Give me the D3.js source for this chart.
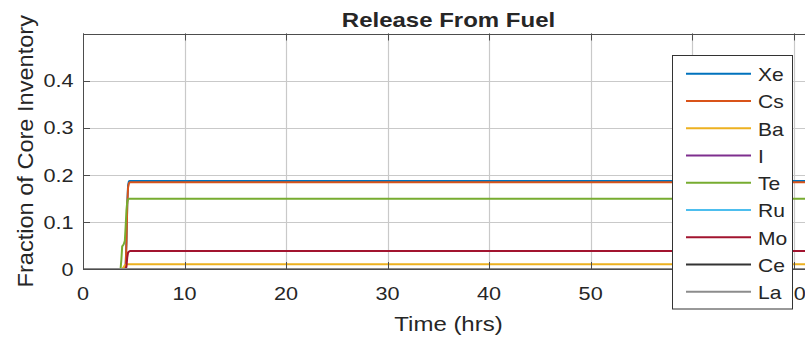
<!DOCTYPE html>
<html>
<head>
<meta charset="utf-8">
<script src="https://cdn.jsdelivr.net/npm/d3@7/dist/d3.min.js"></script>
<style>
  html, body { margin: 0; padding: 0; background: #fff; }
  svg { display: block; }
  text { font-family: "Liberation Sans", Arial, Helvetica, sans-serif; fill: #262626; }
</style>
</head>
<body>
<svg id="chart" width="805" height="341"></svg>
<script>
// Fission product release from fuel, fraction of core inventory vs time
const seriesNames = ["Xe", "Cs", "Ba", "I", "Te", "Ru", "Mo", "Ce", "La"];
const seriesColors = ["#0072BD", "#D95319", "#EDB120", "#7E2F8E", "#77AC30", "#4DBEEE", "#A2142F", "#333333", "#8c8c8c"];

const timeHrs = [0, 3.70, 3.78, 3.86, 4.00, 4.12, 4.20, 4.28, 4.36, 4.44, 4.52, 4.62, 72];
const xe = [0, 0, 0, 0, 0, 0, 0.005, 0.060, 0.140, 0.178, 0.186, 0.187, 0.187];
const cs = [0, 0, 0, 0, 0, 0, 0.004, 0.055, 0.135, 0.173, 0.182, 0.184, 0.184];
const ba = [0, 0, 0, 0, 0.004, 0.008, 0.009, 0.010, 0.010, 0.010, 0.010, 0.010, 0.010];
const iod = [0, 0, 0, 0, 0, 0, 0, 0, 0, 0, 0, 0, 0];
const te = [0, 0, 0.020, 0.048, 0.052, 0.060, 0.090, 0.125, 0.143, 0.148, 0.149, 0.149, 0.149];
const ru = [0, 0, 0, 0, 0, 0, 0, 0, 0, 0, 0, 0, 0];
const mo = [0, 0, 0, 0, 0, 0, 0, 0.005, 0.025, 0.035, 0.037, 0.038, 0.038];
const ce = [0, 0, 0, 0, 0, 0, 0, 0, 0, 0, 0, 0, 0];
const la = [0, 0, 0, 0, 0, 0, 0, 0, 0, 0, 0, 0, 0];
const seriesValues = [xe, cs, ba, iod, te, ru, mo, ce, la];

const xTicks = [0, 10, 20, 30, 40, 50, 60, 70];
const yTicks = [0, 0.1, 0.2, 0.3, 0.4];
const xDomain = [0, 72];
const yDomain = [0, 0.5];

const titleText = "Release From Fuel";
const xLabelText = "Time (hrs)";
const yLabelText = "Fraction of Core Inventory";

// layout
const plotLeft = 83, plotRight = 814, plotTop = 33.5, plotBottom = 269;
const stretch = 1.17;       // horizontal glyph widening of the text face
const axisColor = "#4d4d4d";
const gridColor = "#c9c9c9";
const tickLen = 7;

const svg = d3.select("#chart");
const x = d3.scaleLinear().domain(xDomain).range([plotLeft, plotRight]);
const y = d3.scaleLinear().domain(yDomain).range([plotBottom, plotTop]);

function label(parent, px, py, str, opts) {
  const g = parent.append("g").attr("transform", `translate(${px},${py}) rotate(${opts.rotate || 0})`);
  g.append("text")
    .attr("transform", `scale(${opts.sx || stretch},${opts.sy || 1})`)
    .attr("text-anchor", opts.anchor || "middle")
    .attr("font-size", opts.size)
    .attr("font-weight", opts.weight || "normal")
    .text(str);
  return g;
}

svg.append("defs").append("clipPath").attr("id", "plotClip")
  .append("rect")
  .attr("x", plotLeft).attr("y", plotTop)
  .attr("width", plotRight - plotLeft).attr("height", plotBottom - plotTop);

// grid
const grid = svg.append("g");
grid.selectAll("line.vx").data(xTicks.filter(d => d > 0)).join("line")
  .attr("x1", d => Math.round(x(d)) + 0.5).attr("x2", d => Math.round(x(d)) + 0.5)
  .attr("y1", plotTop).attr("y2", plotBottom)
  .attr("stroke", gridColor).attr("stroke-width", 1.2);
grid.selectAll("line.hy").data(yTicks.filter(d => d > 0)).join("line")
  .attr("y1", d => Math.round(y(d)) + 0.5).attr("y2", d => Math.round(y(d)) + 0.5)
  .attr("x1", plotLeft).attr("x2", plotRight)
  .attr("stroke", gridColor).attr("stroke-width", 1.2);

// data lines
const line = d3.line().x(d => x(d[0])).y(d => y(d[1]));
const plot = svg.append("g").attr("clip-path", "url(#plotClip)");
seriesNames.forEach((name, i) => {
  const pts = timeHrs.map((t, k) => [t, seriesValues[i][k]]);
  plot.append("path")
    .datum(pts)
    .attr("d", line)
    .attr("fill", "none")
    .attr("stroke", seriesColors[i])
    .attr("stroke-width", 2)
    .attr("stroke-linejoin", "round");
});

// axes box and inward ticks
const ax = svg.append("g").attr("stroke", axisColor).attr("stroke-width", 1);
ax.append("line").attr("x1", plotLeft).attr("x2", plotRight).attr("y1", Math.round(plotTop) + 0.5).attr("y2", Math.round(plotTop) + 0.5);
ax.append("line").attr("x1", plotLeft).attr("x2", plotRight).attr("y1", plotBottom + 0.5).attr("y2", plotBottom + 0.5);
ax.append("line").attr("x1", plotLeft + 0.5).attr("x2", plotLeft + 0.5).attr("y1", plotTop).attr("y2", plotBottom + 1);
ax.append("line").attr("x1", plotRight + 0.5).attr("x2", plotRight + 0.5).attr("y1", plotTop).attr("y2", plotBottom + 1);
xTicks.forEach(d => {
  const px = Math.round(x(d)) + 0.5;
  ax.append("line").attr("x1", px).attr("x2", px).attr("y1", plotBottom).attr("y2", plotBottom - tickLen);
  ax.append("line").attr("x1", px).attr("x2", px).attr("y1", plotTop).attr("y2", plotTop + tickLen);
});
yTicks.forEach(d => {
  const py = Math.round(y(d)) + 0.5;
  ax.append("line").attr("x1", plotLeft).attr("x2", plotLeft + tickLen).attr("y1", py).attr("y2", py);
  ax.append("line").attr("x1", plotRight).attr("x2", plotRight - tickLen).attr("y1", py).attr("y2", py);
});

// tick labels
const fmtY = d => d === 0 ? "0" : d3.format(".1f")(d);
xTicks.forEach(d => label(svg, x(d), plotBottom + 31, String(d), { size: 18.5 }));
yTicks.forEach(d => label(svg, plotLeft - 9.5, y(d) + 6.7, fmtY(d), { size: 18.5, anchor: "end" }));

// titles
label(svg, (plotLeft + plotRight) / 2, 27, titleText, { size: 20, weight: "bold", sx: 1.2 });
label(svg, (plotLeft + plotRight) / 2, 331, xLabelText, { size: 20.5 });
label(svg, 32.5, (plotTop + plotBottom) / 2, yLabelText, { size: 20.5, rotate: -90, sx: 1.15, sy: 1.12 });

// legend
const legX = 672.5, legY = 55.5, legW = 120, legH = 253.5, rowGap = 27.25, firstRow = 73.7;
const leg = svg.append("g");
leg.append("rect").attr("x", legX).attr("y", legY).attr("width", legW).attr("height", legH)
  .attr("fill", "#fff").attr("stroke", "#333").attr("stroke-width", 1);
seriesNames.forEach((name, i) => {
  const ry = firstRow + i * rowGap;
  leg.append("line").attr("x1", 686).attr("x2", 751).attr("y1", ry).attr("y2", ry)
    .attr("stroke", seriesColors[i]).attr("stroke-width", 2);
  label(leg, 758, ry + 7.5, name, { size: 18, anchor: "start" });
});
</script>
</body>
</html>
